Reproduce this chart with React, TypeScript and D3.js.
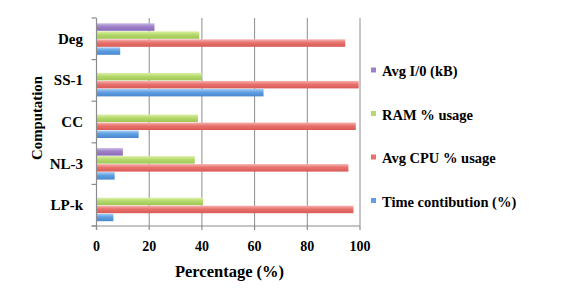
import React from 'react';
import { scaleLinear, scaleBand } from 'd3';

const categories = ['Deg', 'SS-1', 'CC', 'NL-3', 'LP-k'];
const seriesNames = ['Avg I/0 (kB)', 'RAM % usage', 'Avg CPU % usage', 'Time contibution (%)'];
const avgIO = [22, 0, 0, 10, 0];
const ramUsage = [39, 40, 38.5, 37.3, 40.4];
const cpuUsage = [94.4, 99.5, 98.4, 95.6, 97.5];
const timeContribution = [9, 63.4, 16, 6.9, 6.4];
const xTicks = [0, 20, 40, 60, 80, 100];

const seriesValues = [avgIO, ramUsage, cpuUsage, timeContribution];
// light / mid / dark per series
const palette = [
  ['#c9b6e6', '#9d80c8', '#8a6bb8'],
  ['#dcf0a8', '#b5d96c', '#9fc655'],
  ['#f6b3b0', '#e8716c', '#d85a56'],
  ['#a9cdf3', '#5f9fe2', '#4a87cf'],
];

const font = '"Liberation Serif", "Times New Roman", serif';

export default function App() {
  const width = 564, height = 302;
  const margin = { top: 18, right: 204, bottom: 76, left: 96.5 };

  const x = scaleLinear().domain([0, 100]).range([margin.left, width - margin.right]);
  const y = scaleBand().domain(categories).range([margin.top, height - margin.bottom]);
  const inner = scaleBand().domain(seriesNames).range([0, y.bandwidth()]).paddingOuter(0.6);

  const plotBottom = height - margin.bottom;

  return (
    <svg width={width} height={height} style={{ position: 'absolute', left: 0, top: 0, background: '#fff' }}>
      <defs>
        {palette.map((c, i) => (
          <linearGradient key={i} id={`g${i}`} x1="0" y1="0" x2="0" y2="1">
            <stop offset="0" stopColor={c[0]} />
            <stop offset="0.45" stopColor={c[1]} />
            <stop offset="1" stopColor={c[2]} />
          </linearGradient>
        ))}
      </defs>

      {/* grid */}
      {xTicks.slice(1).map(t => (
        <line key={t} x1={x(t)} x2={x(t)} y1={margin.top} y2={plotBottom} stroke="#8c8c8c" strokeWidth={1} />
      ))}

      {/* bars */}
      {categories.map((cat, ci) => (
        <g key={cat} transform={`translate(0,${y(cat)})`}>
          {seriesNames.map((s, si) => {
            const v = seriesValues[si][ci];
            if (!v) return null;
            return (
              <rect key={s} x={x(0)} y={inner(s)! + 0.5} width={x(v) - x(0)} height={inner.bandwidth() - 0.5}
                fill={`url(#g${si})`} />
            );
          })}
        </g>
      ))}

      {/* y axis */}
      <line x1={x(0)} x2={x(0)} y1={margin.top} y2={plotBottom + 4} stroke="#8c8c8c" strokeWidth={1.2} />
      {[...categories.map(c => y(c)!), plotBottom].map((yy, i) => (
        <line key={i} x1={x(0) - 5} x2={x(0)} y1={yy} y2={yy} stroke="#8c8c8c" strokeWidth={1.2} />
      ))}
      {categories.map(c => (
        <text key={c} x={83} y={y(c)! + y.bandwidth() / 2 + 5} textAnchor="end"
          fontFamily={font} fontWeight="bold" fontSize={15}>{c}</text>
      ))}

      {/* x axis */}
      <line x1={x(0) - 5} x2={x(100)} y1={plotBottom} y2={plotBottom} stroke="#8c8c8c" strokeWidth={1.2} />
      {xTicks.map(t => (
        <g key={t}>
          <line x1={x(t)} x2={x(t)} y1={plotBottom} y2={plotBottom + 4} stroke="#8c8c8c" strokeWidth={1.2} />
          <text x={x(t)} y={plotBottom + 25} textAnchor="middle" fontFamily={font} fontWeight="bold" fontSize={14}>{t}</text>
        </g>
      ))}

      <text x={229.5} y={277} textAnchor="middle" fontFamily={font} fontWeight="bold" fontSize={16.5}>Percentage (%)</text>
      <text transform="translate(41.5,118) rotate(-90)" textAnchor="middle"
        fontFamily={font} fontWeight="bold" fontSize={14.8}>Computation</text>

      {/* legend */}
      {seriesNames.map((s, i) => {
        const ly = 71 + i * 43.5;
        return (
          <g key={s}>
            <rect x={371} y={ly - 3.5} width={5} height={5} fill={palette[i][1]} />
            <text x={382} y={ly + 5} fontFamily={font} fontWeight="bold" fontSize={14.5}>{s}</text>
          </g>
        );
      })}
    </svg>
  );
}
